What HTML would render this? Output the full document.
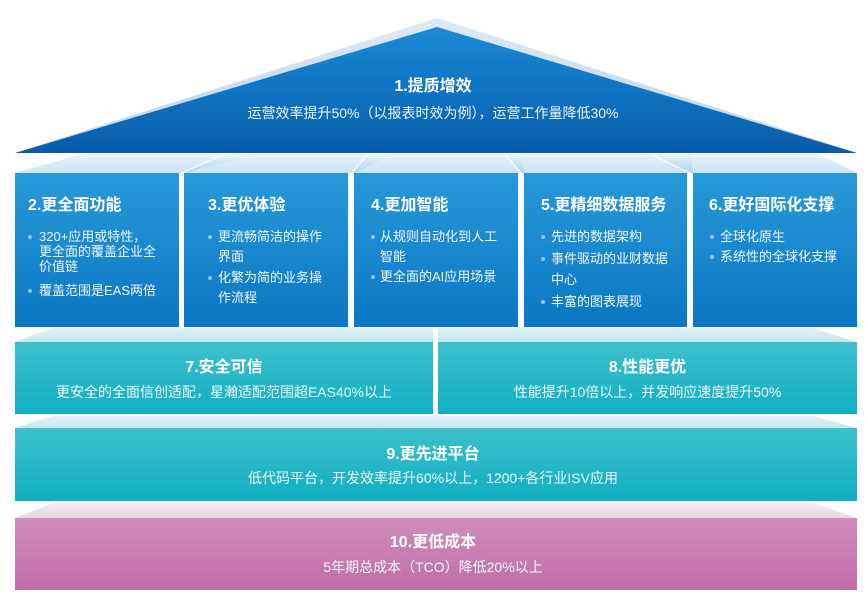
<!DOCTYPE html>
<html><head><meta charset="utf-8">
<style>
html,body{margin:0;padding:0;background:#fff;}
#wrap{position:relative;width:866px;height:603px;overflow:hidden;font-family:"Liberation Sans","Noto Sans CJK SC",sans-serif;}
svg{position:absolute;left:0;top:0;}
.t{position:absolute;color:#fff;white-space:nowrap;}
.ct{position:absolute;left:0;width:866px;text-align:center;color:#fff;white-space:nowrap;}
.h{font-size:16px;font-weight:bold;line-height:18px;}
.s{font-size:14px;line-height:16px;color:#eef7fb;}
.b{font-size:13px;line-height:16px;color:#f2f8fd;}
.d{position:absolute;width:4px;height:4px;border-radius:2px;background:#8fc6ec;}
</style></head><body>
<div id="wrap">
<svg width="866" height="603" viewBox="0 0 866 603">
<defs>
<linearGradient id="gTri" x1="0" y1="0" x2="0" y2="1">
<stop offset="0" stop-color="#1c8ad4"/><stop offset="0.5" stop-color="#0f74c2"/><stop offset="1" stop-color="#0a5ca9"/></linearGradient>
<linearGradient id="gHi" x1="0" y1="0" x2="0" y2="1">
<stop offset="0" stop-color="#dfe9f5"/><stop offset="1" stop-color="#b9d4ec"/></linearGradient>
<linearGradient id="gFace1" x1="0" y1="0" x2="0" y2="1">
<stop offset="0" stop-color="#eaf4fa"/><stop offset="1" stop-color="#c9e3f3"/></linearGradient>
<linearGradient id="gBox" x1="0" y1="0" x2="0" y2="1">
<stop offset="0" stop-color="#2899d8"/><stop offset="1" stop-color="#0b77c3"/></linearGradient>
<linearGradient id="gFace2" x1="0" y1="0" x2="0" y2="1">
<stop offset="0" stop-color="#e0f3f6"/><stop offset="1" stop-color="#c2e8ee"/></linearGradient>
<linearGradient id="gTeal" x1="0" y1="0" x2="0" y2="1">
<stop offset="0" stop-color="#3ec0cd"/><stop offset="1" stop-color="#11afc1"/></linearGradient>
<linearGradient id="gFace3" x1="0" y1="0" x2="0" y2="1">
<stop offset="0" stop-color="#f7ebf3"/><stop offset="1" stop-color="#ecd3e4"/></linearGradient>
<linearGradient id="gPink" x1="0" y1="0" x2="0" y2="1">
<stop offset="0" stop-color="#cf8dbd"/><stop offset="1" stop-color="#c16da8"/></linearGradient>
<linearGradient id="gSh" x1="0" y1="0" x2="0" y2="1">
<stop offset="0" stop-color="#cfe6f4" stop-opacity="0"/><stop offset="1" stop-color="#a9d3ec" stop-opacity="0.9"/></linearGradient>
</defs>
<!-- roof -->
<polygon points="437,18 857,153 15,153" fill="url(#gHi)"/>
<polygon points="437,27 857,153 15,153" fill="url(#gTri)"/>
<!-- top face of boxes -->
<polygon points="82,154 818,154 857,173 15,173" fill="url(#gFace1)"/>
<polygon points="225,154 260,154 184,173 181,173" fill="url(#gSh)"/>
<polygon points="367,154 395,154 354,173 352,173" fill="url(#gSh)"/>
<polygon points="505,154 520,154 524,173 520,173" fill="url(#gSh)"/>
<polygon points="650,154 690,154 693,173 688,173" fill="url(#gSh)"/>
<line x1="181.5" y1="173" x2="225" y2="154" stroke="#ffffff" stroke-width="1.5" opacity="0.8"/>
<line x1="352" y1="173" x2="368" y2="154" stroke="#ffffff" stroke-width="1.5" opacity="0.8"/>
<line x1="521" y1="173" x2="505" y2="154" stroke="#ffffff" stroke-width="1.5" opacity="0.8"/>
<line x1="690" y1="173" x2="650" y2="154" stroke="#ffffff" stroke-width="1.5" opacity="0.8"/>
<!-- boxes -->
<rect x="15" y="173" width="164" height="154" fill="url(#gBox)"/>
<rect x="184" y="173" width="164" height="154" fill="url(#gBox)"/>
<rect x="354" y="173" width="164" height="154" fill="url(#gBox)"/>
<rect x="524" y="173" width="163" height="154" fill="url(#gBox)"/>
<rect x="693" y="173" width="164" height="154" fill="url(#gBox)"/>
<!-- layer 7/8 -->
<polygon points="53,328 813,328 857,342 15,342" fill="url(#gFace2)"/>
<rect x="15" y="342" width="418" height="72" fill="url(#gTeal)"/>
<rect x="438" y="342" width="419" height="72" fill="url(#gTeal)"/>
<rect x="433" y="327" width="5" height="88" fill="#ffffff"/>
<!-- layer 9 -->
<polygon points="53,416 813,416 857,428 15,428" fill="url(#gFace2)"/>
<rect x="15" y="428" width="842" height="73" fill="url(#gTeal)"/>
<!-- layer 10 -->
<polygon points="53,503 813,503 857,518 15,518" fill="url(#gFace3)"/>
<rect x="15" y="518" width="842" height="72" fill="url(#gPink)"/>
</svg>

<!-- roof text -->
<div class="ct h" style="top:78px;">1.提质增效</div>
<div class="ct s" style="top:105px;">运营效率提升50%（以报表时效为例），运营工作量降低30%</div>

<!-- box 2 -->
<div class="t h" style="left:28px;top:197px;">2.更全面功能</div>
<div class="d" style="left:28px;top:235px;"></div>
<div class="t b" style="left:39px;top:229px;">320+应用或特性，</div>
<div class="t b" style="left:39px;top:244px;">更全面的覆盖企业全</div>
<div class="t b" style="left:39px;top:259px;">价值链</div>
<div class="d" style="left:28px;top:289px;"></div>
<div class="t b" style="left:39px;top:283px;">覆盖范围是EAS两倍</div>

<!-- box 3 -->
<div class="t h" style="left:208px;top:197px;">3.更优体验</div>
<div class="d" style="left:208px;top:235px;"></div>
<div class="t b" style="left:218px;top:229px;">更流畅简洁的操作</div>
<div class="t b" style="left:218px;top:249px;">界面</div>
<div class="d" style="left:208px;top:276px;"></div>
<div class="t b" style="left:218px;top:270px;">化繁为简的业务操</div>
<div class="t b" style="left:218px;top:290px;">作流程</div>

<!-- box 4 -->
<div class="t h" style="left:371px;top:197px;">4.更加智能</div>
<div class="d" style="left:371px;top:235px;"></div>
<div class="t b" style="left:380px;top:229px;">从规则自动化到人工</div>
<div class="t b" style="left:380px;top:249px;">智能</div>
<div class="d" style="left:371px;top:275px;"></div>
<div class="t b" style="left:380px;top:269px;">更全面的AI应用场景</div>

<!-- box 5 -->
<div class="t h" style="left:541px;top:197px;">5.更精细数据服务</div>
<div class="d" style="left:541px;top:235px;"></div>
<div class="t b" style="left:551px;top:229px;">先进的数据架构</div>
<div class="d" style="left:541px;top:257px;"></div>
<div class="t b" style="left:551px;top:251px;">事件驱动的业财数据</div>
<div class="t b" style="left:551px;top:272px;">中心</div>
<div class="d" style="left:541px;top:300px;"></div>
<div class="t b" style="left:551px;top:294px;">丰富的图表展现</div>

<!-- box 6 -->
<div class="t h" style="left:709px;top:197px;">6.更好国际化支撑</div>
<div class="d" style="left:710px;top:235px;"></div>
<div class="t b" style="left:720px;top:229px;">全球化原生</div>
<div class="d" style="left:710px;top:255px;"></div>
<div class="t b" style="left:720px;top:249px;">系统性的全球化支撑</div>

<!-- layer 7/8 text -->
<div class="t h" style="left:15px;width:418px;text-align:center;top:359px;">7.安全可信</div>
<div class="t s" style="left:15px;width:418px;text-align:center;top:384px;">更安全的全面信创适配，星瀚适配范围超EAS40%以上</div>
<div class="t h" style="left:438px;width:419px;text-align:center;top:359px;">8.性能更优</div>
<div class="t s" style="left:438px;width:419px;text-align:center;top:384px;">性能提升10倍以上，并发响应速度提升50%</div>

<!-- layer 9 -->
<div class="ct h" style="top:446px;">9.更先进平台</div>
<div class="ct s" style="top:470px;">低代码平台，开发效率提升60%以上，1200+各行业ISV应用</div>

<!-- layer 10 -->
<div class="ct h" style="top:534px;">10.更低成本</div>
<div class="ct s" style="top:559px;">5年期总成本（TCO）降低20%以上</div>
</div>
</body></html>
